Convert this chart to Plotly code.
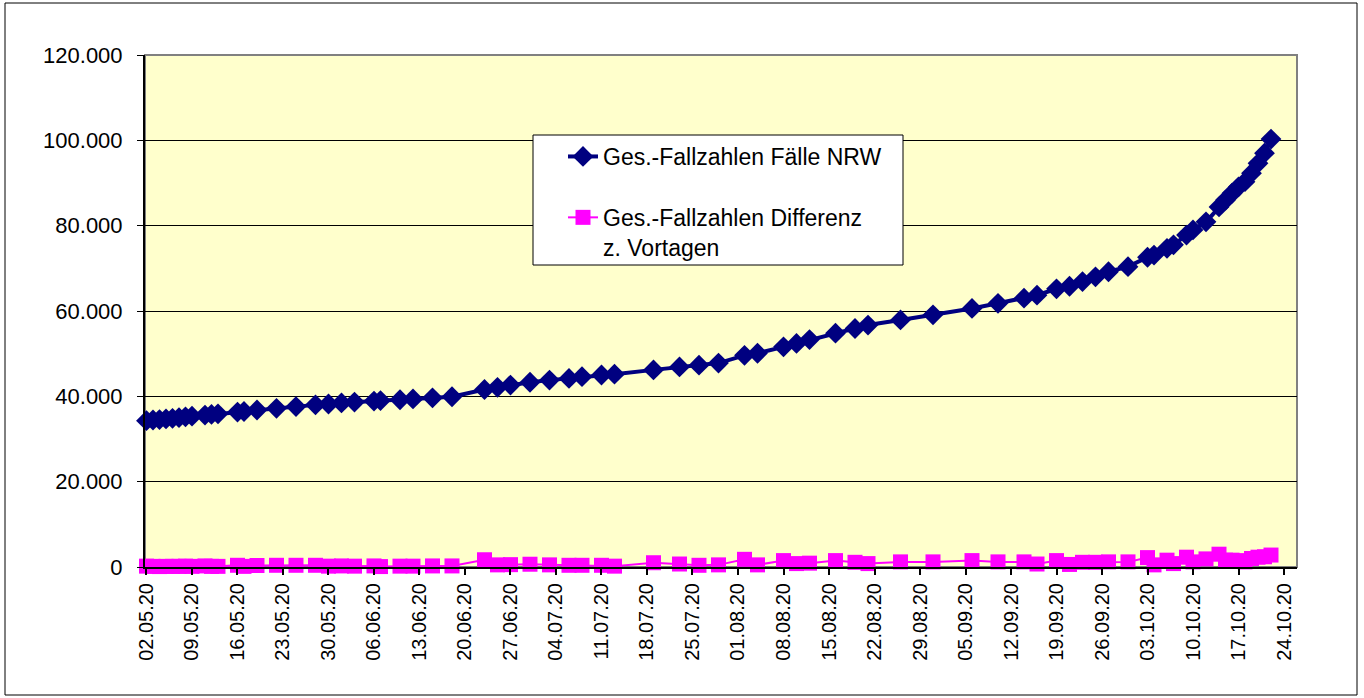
import plotly.graph_objects as go

# ---- data ----
dates = [
    "2020-05-02", "2020-05-03", "2020-05-04", "2020-05-05", "2020-05-06", "2020-05-07",
    "2020-05-08", "2020-05-09", "2020-05-11", "2020-05-12", "2020-05-13", "2020-05-16",
    "2020-05-17", "2020-05-19", "2020-05-22", "2020-05-25", "2020-05-28", "2020-05-30",
    "2020-06-01", "2020-06-03", "2020-06-06", "2020-06-07", "2020-06-10", "2020-06-12",
    "2020-06-15", "2020-06-18", "2020-06-23", "2020-06-25", "2020-06-27", "2020-06-30",
    "2020-07-03", "2020-07-06", "2020-07-08", "2020-07-11", "2020-07-13", "2020-07-19",
    "2020-07-23", "2020-07-26", "2020-07-29", "2020-08-02", "2020-08-04", "2020-08-08",
    "2020-08-10", "2020-08-12", "2020-08-16", "2020-08-19", "2020-08-21", "2020-08-26",
    "2020-08-31", "2020-09-06", "2020-09-10", "2020-09-14", "2020-09-16", "2020-09-19",
    "2020-09-21", "2020-09-23", "2020-09-25", "2020-09-27", "2020-09-30", "2020-10-03",
    "2020-10-04", "2020-10-06", "2020-10-07", "2020-10-09", "2020-10-10", "2020-10-12",
    "2020-10-14", "2020-10-15", "2020-10-16", "2020-10-17", "2020-10-18", "2020-10-19",
    "2020-10-20", "2020-10-21", "2020-10-22",
]

faelle_nrw = [
    34300, 34450, 34550, 34700, 34850, 35000,
    35200, 35350, 35600, 35750, 35900, 36300,
    36450, 36800, 37200, 37600, 38000, 38200,
    38450, 38650, 38900, 39000, 39200, 39400,
    39650, 39900, 41600, 42100, 42650, 43300,
    43800, 44200, 44600, 45000, 45200, 46200,
    46900, 47300, 47800, 49600, 50100, 51600,
    52400, 53300, 54800, 55900, 56700, 57900,
    59100, 60600, 61800, 63000, 63700, 65200,
    65800, 66900, 68000, 69200, 70400, 72600,
    73100, 74700, 75500, 77800, 79000, 80900,
    84400, 86000, 87600, 89100, 90300, 92300,
    94600, 97000, 100300,
]

differenz = [
    200, 150, 100, 150, 150, 150,
    200, 150, 250, 150, 150, 400,
    150, 350, 400, 400, 400, 200,
    250, 200, 250, 100, 200, 200,
    250, 250, 1700, 500, 550, 650,
    500, 400, 400, 400, 200, 1000,
    700, 400, 500, 1800, 500, 1500,
    800, 900, 1500, 1100, 800, 1200,
    1200, 1500, 1200, 1200, 700, 1500,
    600, 1100, 1100, 1200, 1200, 2200,
    500, 1600, 800, 2300, 1200, 1900,
    3000, 1600, 1600, 1500, 1200, 2000,
    2300, 2400, 2800,
]

tick_dates = [
    "2020-05-02", "2020-05-09", "2020-05-16", "2020-05-23", "2020-05-30", "2020-06-06",
    "2020-06-13", "2020-06-20", "2020-06-27", "2020-07-04", "2020-07-11", "2020-07-18",
    "2020-07-25", "2020-08-01", "2020-08-08", "2020-08-15", "2020-08-22", "2020-08-29",
    "2020-09-05", "2020-09-12", "2020-09-19", "2020-09-26", "2020-10-03", "2020-10-10",
    "2020-10-17", "2020-10-24",
]
tick_labels = [d[8:10] + "." + d[5:7] + "." + d[2:4] for d in tick_dates]

name_faelle = "Ges.-Fallzahlen Fälle NRW"
name_diff = "Ges.-Fallzahlen Differenz<br>z. Vortagen"

# ---- figure ----
W, H = 1364, 698
ML, MR, MT, MB = 145, 67, 55, 131
PW = W - ML - MR
PH = H - MT - MB


def px(x):
    return (x - ML) / PW


def py(y):
    return (H - MB - y) / PH


fig = go.Figure()
fig.add_trace(go.Scatter(
    x=dates, y=faelle_nrw, name=name_faelle, mode="lines+markers",
    line=dict(color="#000080", width=4),
    marker=dict(symbol="diamond", size=16, color="#000080"),
    cliponaxis=False, legendgroup="a",
))
fig.add_trace(go.Scatter(
    x=dates, y=differenz, name=name_diff, mode="lines+markers",
    line=dict(color="#FF00FF", width=2),
    marker=dict(symbol="square", size=15, color="#FF00FF"),
    cliponaxis=False, legendgroup="b",
))

font = "Liberation Sans, Arial, sans-serif"

fig.update_layout(
    width=W, height=H,
    margin=dict(l=ML, r=MR, t=MT, b=MB, pad=0),
    paper_bgcolor="white",
    plot_bgcolor="#FFFFCC",
    separators=",.",
    font=dict(family=font, size=22, color="black"),
    showlegend=True,
    legend=dict(
        x=px(563), y=py(135), xanchor="left", yanchor="top",
        bgcolor="rgba(0,0,0,0)", borderwidth=0,
        font=dict(family=font, size=23, color="black"),
        tracegroupgap=28, valign="top", itemwidth=30,
    ),
    xaxis=dict(
        type="date",
        range=["2020-05-01 18:30", "2020-10-26 00:00"],
        tickmode="array", tickvals=tick_dates, ticktext=tick_labels,
        tickangle=-90, ticks="outside", ticklen=6, tickwidth=2, tickcolor="black",
        showline=True, linecolor="black", linewidth=2,
        showgrid=False, zeroline=False,
        tickfont=dict(size=20),
    ),
    yaxis=dict(
        range=[0, 120000], tickmode="linear", tick0=0, dtick=20000,
        tickformat=",d", ticks="outside", ticklen=6, tickwidth=1, tickcolor="black",
        showline=True, linecolor="black", linewidth=2,
        showgrid=True, gridcolor="black", gridwidth=1,
        zeroline=False, ticklabelstandoff=10,
        tickfont=dict(size=22),
    ),
    shapes=[
        # plot area border (grey, Excel style)
        dict(type="rect", xref="paper", yref="paper", x0=0, x1=1, y0=0, y1=1,
             line=dict(color="#808080", width=2), layer="below"),
        # legend box
        dict(type="rect", xref="paper", yref="paper",
             x0=px(533), x1=px(903), y0=py(265), y1=py(135),
             line=dict(color="black", width=1), fillcolor="white", layer="above"),
        # chart area border
        dict(type="rect", xref="paper", yref="paper",
             x0=px(5), x1=px(1357), y0=py(695), y1=py(3),
             line=dict(color="black", width=1), layer="below"),
    ],
)

fig.write_html("out.html", config={"displayModeBar": False},
               post_script="document.body.style.margin='0';")
